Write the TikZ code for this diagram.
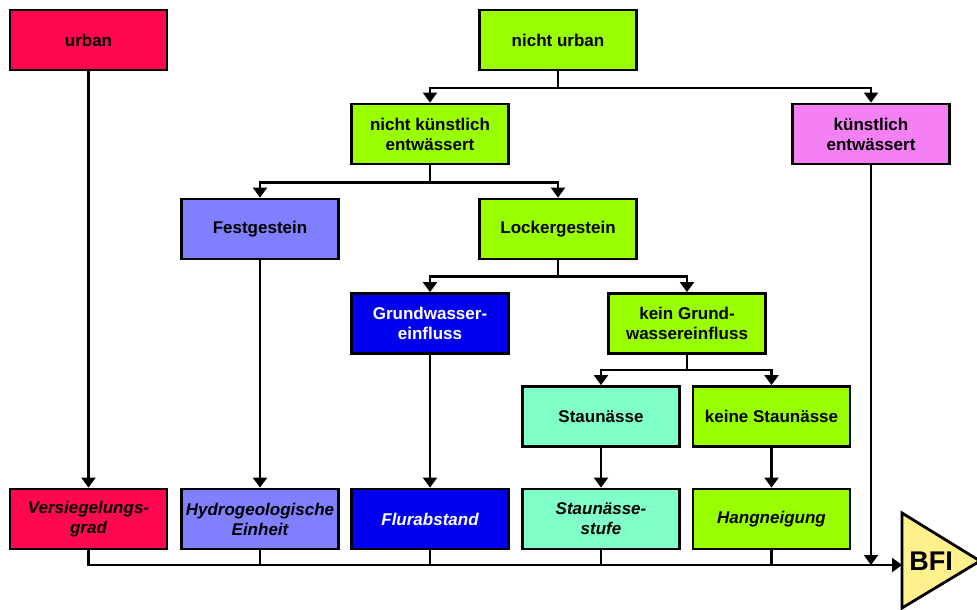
\documentclass[tikz,border=0pt]{standalone}
\usepackage{fontspec}
\setsansfont{Liberation Sans}
\usetikzlibrary{positioning,arrows.meta}
\definecolor{urbancolor}{RGB}{255,8,80}
\definecolor{greencolor}{RGB}{153,255,0}
\definecolor{draincolor}{RGB}{245,128,245}
\definecolor{rockcolor}{RGB}{128,128,255}
\definecolor{gwcolor}{RGB}{0,0,238}
\definecolor{staucolor}{RGB}{128,255,200}
\definecolor{bficolor}{RGB}{255,240,140}

\begin{document}
\begin{tikzpicture}[
  x=0.5pt, y=-0.5pt,
  >={Triangle[length=5pt,width=7pt]},
  block/.style={rectangle, draw, line width=1.4pt, minimum width=78.5pt, minimum height=30pt, inner sep=1pt, font=\fontsize{8.5}{10}\selectfont\sffamily\bfseries, align=center},
  result/.style={block, font=\fontsize{8.5}{10}\selectfont\sffamily\bfseries\itshape},
  urb/.style={fill=urbancolor},
  grn/.style={fill=greencolor},
  drain/.style={fill=draincolor},
  rock/.style={fill=rockcolor},
  gw/.style={fill=gwcolor, text=white},
  stau/.style={fill=staucolor},
  arr/.style={->, line width=1.1pt},
  link/.style={line width=1.1pt},
]
\useasboundingbox (0,0) rectangle (977,609);

% === Decision tree ===
\node[block, urb] (urban) at (88.5,40) {urban};
\node[block, grn] (nurban) at (558,40) {nicht urban};
\node[block, grn] (nkuenst) at (430,134) {nicht künstlich\\entwässert};
\node[block, drain] (kuenst) at (871,134) {künstlich\\entwässert};
\node[block, rock] (fest) at (260,229) {Festgestein};
\node[block, grn] (locker) at (558,229) {Lockergestein};
\node[block, gw] (gwein) at (430,323.5) {Grundwasser-\\einfluss};
\node[block, grn] (kgwein) at (687,323.5) {kein Grund-\\wassereinfluss};
\node[block, stau] (staun) at (601,416.5) {Staunässe};
\node[block, grn] (kstaun) at (771.5,416.5) {keine Staunässe};

% === Parameters ===
\node[result, urb] (versieg) at (88.5,519) {Versiegelungs-\\grad};
\node[result, rock] (hydro) at (260,519) {Hydrogeologische\\Einheit};
\node[result, gw] (flur) at (430,519) {Flurabstand};
\node[result, stau] (staustufe) at (601,519) {Staunässe-\\stufe};
\node[result, grn] (hang) at (771.5,519) {Hangneigung};

% BFI
\draw[line width=1.4pt, fill=bficolor] (902,513) -- (980,561) -- (902,608) -- cycle;
\node[font=\fontsize{13.5}{13.5}\selectfont\sffamily\bfseries] (bfi) at (931,561) {BFI};
\coordinate (bfiin) at (902,565);

% === Branch arrows ===
\draw[arr] (nurban.south) -- ++(0,17) -| (nkuenst.north);
\draw[arr] (nurban.south) -- ++(0,17) -| (kuenst.north);
\draw[arr] (nkuenst.south) -- ++(0,17) -| (fest.north);
\draw[arr] (nkuenst.south) -- ++(0,17) -| (locker.north);
\draw[arr] (locker.south) -- ++(0,16) -| (gwein.north);
\draw[arr] (locker.south) -- ++(0,16) -| (kgwein.north);
\draw[arr] (kgwein.south) -- ++(0,15) -| (staun.north);
\draw[arr] (kgwein.south) -- ++(0,15) -| (kstaun.north);

\draw[arr] (urban) -- (versieg);
\draw[arr] (fest) -- (hydro);
\draw[arr] (gwein) -- (flur);
\draw[arr] (staun) -- (staustufe);
\draw[arr] (kstaun) -- (hang);

% === Collector line to BFI ===
\draw[arr] (versieg.south) |- (bfiin);
\foreach \p in {hydro,flur,staustufe,hang}
  \draw[link] (\p.south) -- (\p.south |- bfiin);
\draw[arr] (kuenst.south) -- (kuenst.south |- bfiin);

\end{tikzpicture}
\end{document}
